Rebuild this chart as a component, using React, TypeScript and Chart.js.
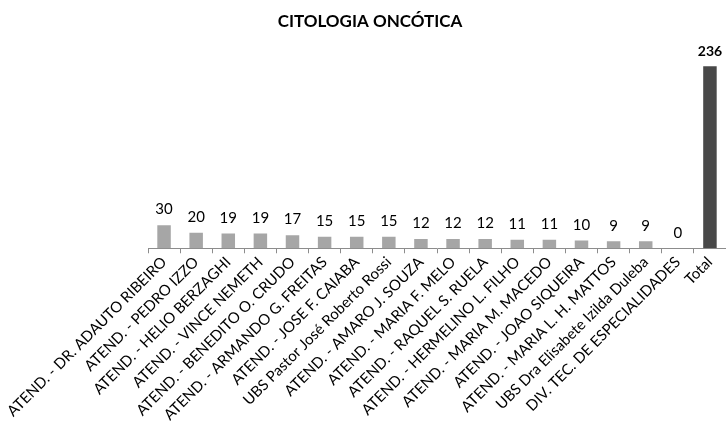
import React, { useEffect, useRef } from "react";
import { Chart, registerables } from "chart.js";

Chart.register(...registerables);

const categories = [
  "ATEND. - DR. ADAUTO RIBEIRO",
  "ATEND. - PEDRO IZZO",
  "ATEND. - HELIO BERZAGHI",
  "ATEND. - VINCE NEMETH",
  "ATEND. - BENEDITO O. CRUDO",
  "ATEND. - ARMANDO G. FREITAS",
  "ATEND. - JOSE F. CAIABA",
  "UBS Pastor José Roberto Rossi",
  "ATEND. - AMARO J. SOUZA",
  "ATEND. - MARIA F. MELO",
  "ATEND. - RAQUEL S. RUELA",
  "ATEND. - HERMELINO L. FILHO",
  "ATEND. - MARIA M. MACEDO",
  "ATEND. - JOAO SIQUEIRA",
  "ATEND. - MARIA L. H. MATTOS",
  "UBS Dra Elisabete Izilda Duleba",
  "DIV. TEC. DE ESPECIALIDADES",
  "Total",
];
const values = [30, 20, 19, 19, 17, 15, 15, 15, 12, 12, 12, 11, 11, 10, 9, 9, 0, 236];
const title = "CITOLOGIA ONCÓTICA";

const FONT = "Lato, 'Liberation Sans', sans-serif";

const valueLabels = {
  id: "valueLabels",
  afterDatasetsDraw(chart: any) {
    const ctx = chart.ctx;
    const meta = chart.getDatasetMeta(0);
    ctx.save();
    ctx.textAlign = "center";
    ctx.textBaseline = "bottom";
    meta.data.forEach((bar: any, i: number) => {
      const last = i === values.length - 1;
      ctx.font = (last ? "bold 14px " : "15px ") + FONT;
      ctx.fillStyle = "#000";
      ctx.fillText(String(values[i]), bar.x, bar.y - 8);
    });
    ctx.font = "bold 17px " + FONT;
    ctx.textBaseline = "middle";
    ctx.fillText(title, 370, 22);
    ctx.restore();
  },
};

export default function App() {
  const ref = useRef<HTMLCanvasElement | null>(null);
  useEffect(() => {
    if (!ref.current) return;
    const chart = new Chart(ref.current, {
      type: "bar",
      data: {
        labels: categories,
        datasets: [
          {
            data: values,
            backgroundColor: values.map((_, i) => (i === values.length - 1 ? "#484848" : "#a6a6a6")),
            barPercentage: 0.42,
            categoryPercentage: 1,
          },
        ],
      },
      options: {
        responsive: false,
        animation: false,
        layout: { padding: { top: 40, right: 0, bottom: 0, left: 148 } },
        plugins: {
          legend: { display: false },
          tooltip: { enabled: false },
          title: { display: false },
        },
        scales: {
          x: {
            grid: { display: true, drawOnChartArea: false, offset: true, tickLength: 5, color: "#8c8c8c" },
            border: { display: true, color: "#8c8c8c" },
            ticks: {
              autoSkip: false,
              maxRotation: 45,
              minRotation: 45,
              color: "#000",
              font: { family: FONT, size: 15 },
              padding: 0,
            },
          },
          y: {
            display: false,
            min: 0,
            max: 270,
          },
        },
      },
      plugins: [valueLabels],
    });
    return () => chart.destroy();
  }, []);
  return (
    <div style={{ position: "fixed", left: 0, top: 0, width: 726, height: 424, background: "#fff" }}>
      <canvas ref={ref} width={726} height={424} />
    </div>
  );
}
